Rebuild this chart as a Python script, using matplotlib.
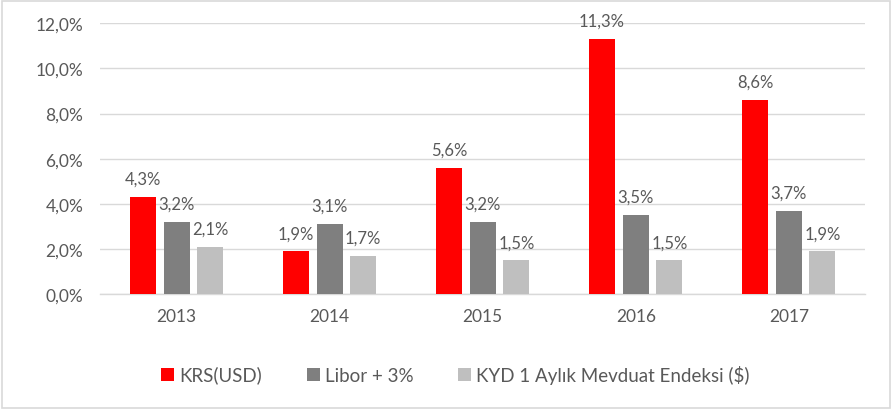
import matplotlib
matplotlib.use("Agg")
import matplotlib.pyplot as plt
import numpy as np
from matplotlib.patches import Rectangle

years = ["2013", "2014", "2015", "2016", "2017"]
krs = [4.3, 1.9, 5.6, 11.3, 8.6]
libor = [3.2, 3.1, 3.2, 3.5, 3.7]
kyd = [2.1, 1.7, 1.5, 1.5, 1.9]
series_names = ["KRS(USD)", "Libor + 3%", "KYD 1 Aylık Mevduat Endeksi ($)"]
colors = ["#FF0000", "#7F7F7F", "#BFBFBF"]
yticks = [0, 2, 4, 6, 8, 10, 12]

plt.rcParams['font.family'] = ['Lato', 'DejaVu Sans']
txt = "#595959"

fig = plt.figure(figsize=(8.93, 4.10), dpi=100)
ax = fig.add_axes([0.112, 0.280, 0.857, 0.661])

x = np.arange(len(years))
w = 0.17
off = 0.22
for i, (vals, c, name) in enumerate(zip([krs, libor, kyd], colors, series_names)):
    xs = x + (i - 1) * off
    ax.bar(xs, vals, width=w, color=c, label=name, zorder=3)
    for xi, v in zip(xs, vals):
        ax.text(xi, v + 0.45, f"{v:.1f}%".replace(".", ","), ha="center", va="bottom",
                fontsize=12, color=txt, zorder=4)

ax.set_xlim(-0.5, len(years) - 0.5)
ax.set_ylim(0, 12)
ax.set_yticks(yticks)
ax.set_yticklabels([f"{t:.1f}%".replace(".", ",") for t in yticks], fontsize=12.5, color=txt)
ax.set_xticks(x)
ax.set_xticklabels(years, fontsize=12.5, color=txt)
ax.tick_params(length=0, pad=10)
ax.tick_params(axis='y', pad=12)
ax.grid(axis='y', color="#D9D9D9", linewidth=1, zorder=0)
for s in ["top", "right", "left"]:
    ax.spines[s].set_visible(False)
ax.spines["bottom"].set_color("#D9D9D9")
ax.spines["bottom"].set_linewidth(1)

fig.legend(loc="center", bbox_to_anchor=(0.51, 0.085), ncol=3, frameon=False,
           fontsize=13.5, labelcolor=txt, handlelength=0.7, handleheight=0.7,
           handletextpad=0.25, columnspacing=2.4)

fig.patches.append(Rectangle((0.002, 0.003), 0.995, 0.993, transform=fig.transFigure,
                             fill=False, edgecolor="#D9D9D9", linewidth=1.2))

fig.savefig("out.png", dpi=100)
